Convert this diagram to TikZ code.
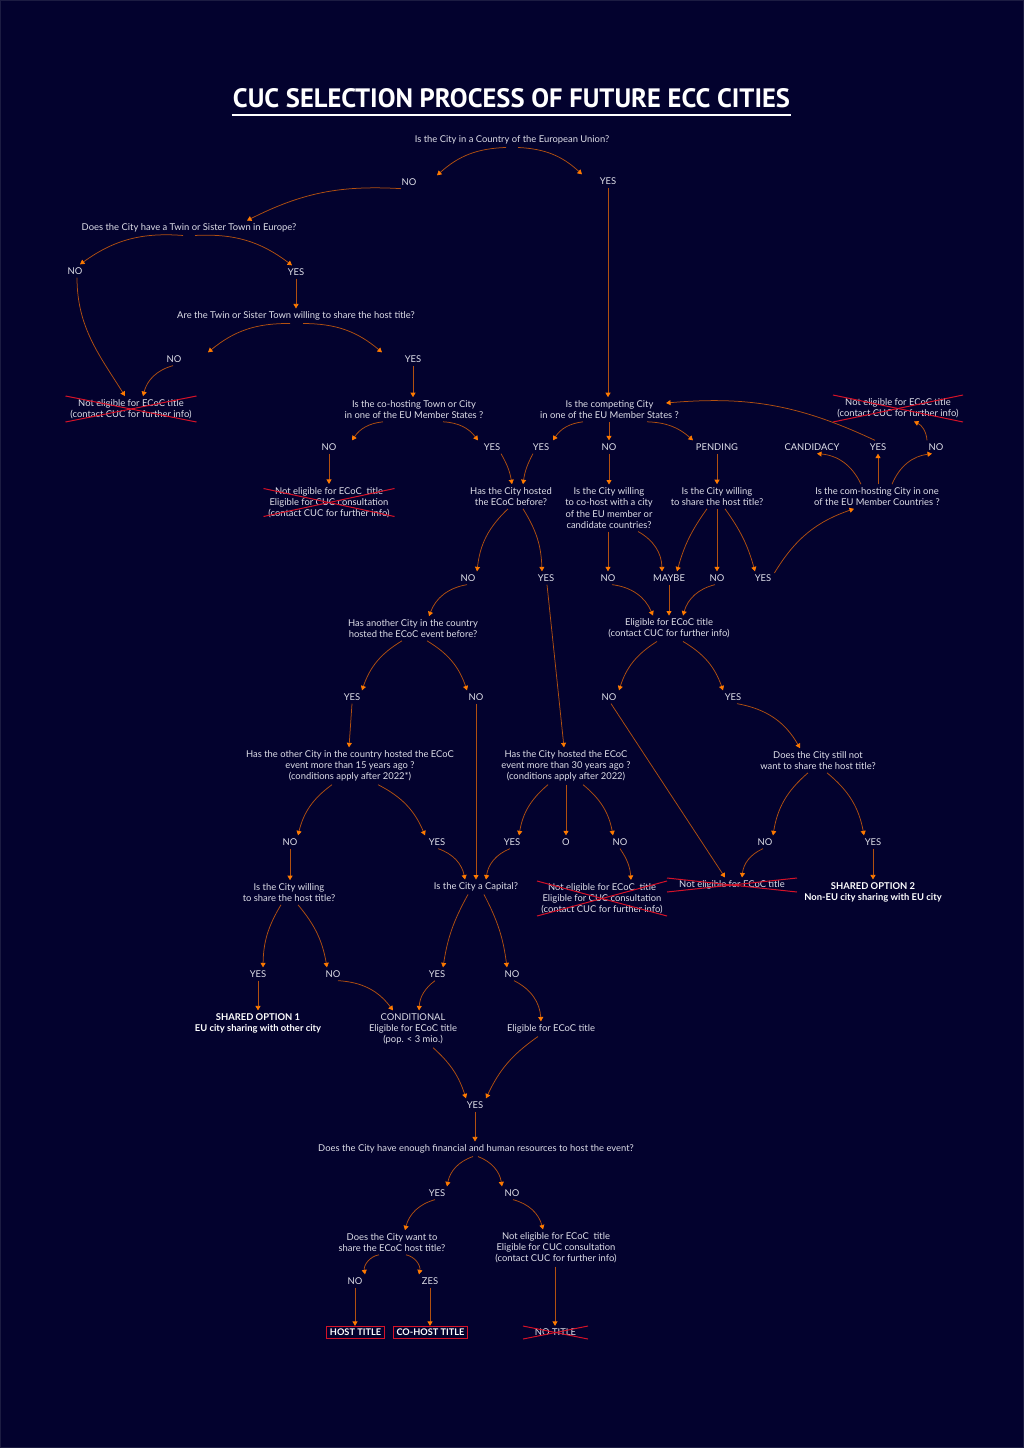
\documentclass[tikz,border=0pt]{standalone}
\usepackage{graphicx}
\usepackage{fontspec}
\setmainfont{Lato}
\newfontfamily\titlefont{PT Sans}
\usetikzlibrary{arrows.meta}
\definecolor{bgc}{RGB}{3,2,46}
\definecolor{fgc}{RGB}{222,222,232}
\definecolor{linec}{RGB}{178,80,16}
\definecolor{tipc}{RGB}{255,122,0}
\definecolor{xred}{RGB}{214,18,40}
\definecolor{edgec}{RGB}{28,28,66}
\newcommand\cdn[5]{\draw[arr] ([xshift=#2pt]#1.south) to[#5] ([xshift=#4pt]#3.north);}
\newcommand\crossnode[3]{\draw[xline] ([shift={(-#2,-#3)}]#1.center) -- ([shift={(#2,#3)}]#1.center);
  \draw[xline] ([shift={(-#2,#3)}]#1.center) -- ([shift={(#2,-#3)}]#1.center);}
\begin{document}
\begin{tikzpicture}[x=1pt,y=-1pt,
  txt/.style={text=fgc, font=\fontsize{9.4}{11.2}\selectfont, align=center, inner sep=3pt},
  bold/.style={txt, text=white, font=\fontsize{9.4}{11.2}\selectfont\bfseries},
  titlebox/.style={txt, text=white, font=\fontsize{9.2}{11.2}\selectfont\bfseries, draw=xred, line width=1pt, inner xsep=3.5pt, inner ysep=2.8pt, text height=6.6pt, text depth=0pt},
  arr/.style={draw=linec, line width=0.75pt, -{Triangle[length=4.5pt,width=5pt,color=tipc]}},
  xline/.style={draw=xred, line width=1pt},
]
\fill[bgc] (0,0) rectangle (1024,1448);
\useasboundingbox (0,0) rectangle (1024,1448);
\draw[edgec, line width=1pt] (0.5,0.5) rectangle (1023.5,1447.5);

% title
\node[inner sep=0pt, text=white] (title) at (511.5,98) {\resizebox{557pt}{19pt}{\titlefont\bfseries CUC SELECTION PROCESS OF FUTURE ECC CITIES}};
\draw[white, line width=1.8pt] ([xshift=-1pt,yshift=-7.5pt]title.south west) -- ([xshift=1pt,yshift=-7.5pt]title.south east);

% nodes
\node[txt] (q1) at (512,140) {Is the City in a Country of the European Union?};
\node[txt] (no1) at (409,182) {NO};
\node[txt] (yes1) at (608,181) {YES};
\node[txt] (q2) at (189,228) {Does the City have a Twin or Sister Town in Europe?};
\node[txt] (no2) at (75,271) {NO};
\node[txt] (yes2) at (296,272) {YES};
\node[txt] (q3) at (296,316) {Are the Twin or Sister Town willing to share the host title?};
\node[txt] (no3) at (174,359) {NO};
\node[txt] (yes3) at (413,359) {YES};
\node[txt] (ne1) at (131,409) {Not eligible for ECoC title\\(contact CUC for further info)};
\node[txt] (q4) at (414,409.5) {Is the co-hosting Town or City\\in one of the EU Member States ?};
\node[txt] (q6) at (609.5,409.5) {Is the competing City\\in one of the EU Member States ?};
\node[txt] (ne3) at (898,408.5) {Not eligible for ECoC title\\(contact CUC for further info)};
\node[txt] (no4) at (329,447) {NO};
\node[txt] (yes4) at (492,447) {YES};
\node[txt] (yes5) at (541,447) {YES};
\node[txt] (no5) at (609,447) {NO};
\node[txt] (pend) at (717,447) {PENDING};
\node[txt] (cand) at (812,447) {CANDIDACY};
\node[txt] (yes6) at (878,447) {YES};
\node[txt] (no6) at (936,447) {NO};
\node[txt] (ne2) at (329,502.5) {Not eligible for ECoC~ title\\Eligible for CUC consultation\\(contact CUC for further info)};
\node[txt] (q5) at (511,496.5) {Has the City hosted\\the ECoC before?};
\node[txt] (q7) at (609,508) {Is the City willing\\to co-host with a city\\of the EU member or\\candidate countries?};
\node[txt] (q8) at (717,496.5) {Is the City willing\\to share the host title?};
\node[txt] (q9) at (877,496.5) {Is the com-hosting City in one\\of the EU Member Countries ?};
\node[txt] (no7) at (468,578) {NO};
\node[txt] (yes7) at (546,578) {YES};
\node[txt] (no8) at (608,578) {NO};
\node[txt] (maybe) at (669,578) {MAYBE};
\node[txt] (no9) at (717,578) {NO};
\node[txt] (yes8) at (763,578) {YES};
\node[txt] (q10) at (413,628.5) {Has another City in the country\\hosted the ECoC event before?};
\node[txt] (el1) at (669,628.5) {Eligible for ECoC title\\(contact CUC for further info)};
\node[txt] (yes9) at (352,697) {YES};
\node[txt] (no10) at (476,697) {NO};
\node[txt] (no11) at (609,697) {NO};
\node[txt] (yes10) at (733,697) {YES};
\node[txt] (q11) at (350,766) {Has the other City in the country hosted the ECoC\\event more than 15 years ago ?\\(conditions apply after 2022*)};
\node[txt] (q12) at (566,766) {Has the City hosted the ECoC\\event more than 30 years ago ?\\(conditions apply after 2022)};
\node[txt] (q13) at (818,760.5) {Does the City still not\\want to share the host title?};
\node[txt] (no12) at (290,842) {NO};
\node[txt] (yes11) at (437,842) {YES};
\node[txt] (yes12) at (512,842) {YES};
\node[txt] (o) at (566,842) {O};
\node[txt] (no13) at (620,842) {NO};
\node[txt] (no14) at (765,842) {NO};
\node[txt] (yes13) at (873,842) {YES};
\node[txt] (q14) at (289,892.5) {Is the City willing\\to share the host title?};
\node[txt] (q15) at (476,887) {Is the City a Capital?};
\node[txt] (ne4) at (602,898.5) {Not eligible for ECoC~ title\\Eligible for CUC consultation\\(contact CUC for further info)};
\node[txt] (ne5) at (732,885) {Not eligible for ECoC title};
\node[bold] (sh2) at (873,892.5) {SHARED OPTION 2\\Non-EU city sharing with EU city};
\node[txt] (yes14) at (258,974) {YES};
\node[txt] (no15) at (333,974) {NO};
\node[txt] (yes15) at (437,974) {YES};
\node[txt] (no16) at (512,974) {NO};
\node[bold] (sh1) at (258,1023.5) {SHARED OPTION 1\\EU city sharing with other city};
\node[txt] (cond) at (413,1029) {CONDITIONAL\\Eligible for ECoC title\\(pop. < 3 mio.)};
\node[txt] (el2) at (551,1029) {Eligible for ECoC title};
\node[txt] (yes16) at (475,1105) {YES};
\node[txt] (q16) at (476,1149) {Does the City have enough financial and human resources to host the event?};
\node[txt] (yes17) at (437,1193) {YES};
\node[txt] (no17) at (512,1193) {NO};
\node[txt] (q17) at (392,1242.5) {Does the City want to\\share the ECoC host title?};
\node[txt] (ne6) at (556,1248) {Not eligible for ECoC~ title\\Eligible for CUC consultation\\(contact CUC for further info)};
\node[txt] (no18) at (355,1281) {NO};
\node[txt] (zes) at (430,1281) {ZES};
\node[titlebox] (host) at (355.5,1332.5) {HOST TITLE};
\node[titlebox] (cohost) at (430.5,1332.5) {CO-HOST TITLE};
\node[txt] (notitle) at (555.5,1332.5) {NO TITLE};

% crosses
\crossnode{ne1}{65.5}{13}
\crossnode{ne2}{65.5}{14}
\crossnode{ne3}{65}{13.5}
\crossnode{ne4}{65}{17.5}
\crossnode{ne5}{65}{7}
\crossnode{notitle}{32.5}{6.5}

% connectors
\cdn{q1}{-6}{no1}{28}{bend right=20}
\cdn{q1}{6}{yes1}{-26}{bend left=20}
\cdn{no1}{-8}{q2}{58}{bend right=15}
\cdn{yes1}{0}{q6}{-1.5}{}
\cdn{q2}{-6}{no2}{5}{bend right=20}
\cdn{q2}{6}{yes2}{-4}{bend left=20}
\cdn{yes2}{0}{q3}{0}{}
\cdn{q3}{-6}{no3}{34}{bend right=20}
\cdn{q3}{7}{yes3}{-31}{bend left=20}
\draw[arr] ([xshift=2pt]no2.south) .. controls +(0,50) and +(-25,-40) .. ([xshift=-6pt]ne1.north);
\cdn{no3}{-1}{ne1}{12}{bend right=30}
\cdn{yes3}{0}{q4}{-1}{}
\cdn{q4}{-31}{no4}{23}{bend right=25}
\cdn{q4}{29}{yes4}{-14}{bend left=25}
\cdn{no4}{0}{ne2}{0}{}
\cdn{yes4}{9}{q5}{1}{bend left=10}
\cdn{yes5}{-8}{q5}{12}{bend right=10}
\cdn{q6}{-26.5}{yes5}{12}{bend right=25}
\cdn{q6}{-0.5}{no5}{0}{}
\cdn{q6}{37.5}{pend}{-24}{bend left=20}
\cdn{no5}{0}{q7}{0}{}
\cdn{pend}{0}{q8}{0}{}
\draw[arr] ([xshift=-16pt]q9.north) to[bend right=30] ([xshift=5pt]cand.south);
\draw[arr] ([xshift=1pt]q9.north) -- (yes6.south);
\draw[arr] ([xshift=15pt]q9.north) to[bend left=30] ([xshift=-4pt]no6.south);
\draw[arr] ([xshift=-3pt]yes6.north) to[bend right=15] ([xshift=-16pt,yshift=6.5pt]q6.east);
\draw[arr] ([xshift=-9pt]no6.north) to[bend right=30] ([xshift=16pt]ne3.south);
\cdn{q7}{-1}{no8}{0}{}
\cdn{q7}{29}{maybe}{-7}{bend left=30}
\cdn{q8}{-10}{maybe}{8}{bend right=10}
\cdn{q8}{0}{no9}{0}{}
\cdn{q8}{8}{yes8}{-8}{bend left=10}
\draw[arr] ([yshift=5pt]yes8.east) to[bend left=20] ([xshift=-23pt]q9.south);
\cdn{q5}{-3}{no7}{9}{bend right=20}
\cdn{q5}{12}{yes7}{-4}{bend left=15}
\cdn{no7}{-1}{q10}{16}{bend right=30}
\cdn{yes7}{1}{q12}{-2}{}
\cdn{no8}{4}{el1}{-16}{bend left=30}
\cdn{maybe}{0}{el1}{0}{}
\cdn{no9}{-2}{el1}{14}{bend right=30}
\cdn{el1}{-12}{no11}{10}{bend right=20}
\cdn{el1}{14}{yes10}{-10}{bend left=20}
\cdn{yes10}{4}{q13}{-18}{bend left=25}
\cdn{no11}{2}{ne5}{-7}{}
\cdn{q10}{-11}{yes9}{10}{bend right=20}
\cdn{q10}{14}{no10}{-9}{bend left=20}
\cdn{yes9}{0}{q11}{-1}{}
\cdn{no10}{0}{q15}{0}{}
\cdn{q11}{-18}{no12}{8}{bend right=20}
\cdn{q11}{28}{yes11}{-12}{bend left=20}
\cdn{no12}{0}{q14}{1}{}
\cdn{yes11}{1}{q15}{-11}{bend left=30}
\cdn{yes12}{-2}{q15}{10}{bend right=30}
\cdn{q12}{-18}{yes12}{7}{bend right=20}
\cdn{q12}{0}{o}{0}{}
\cdn{q12}{17}{no13}{-7}{bend left=20}
\cdn{no13}{0}{ne4}{29}{bend left=15}
\cdn{q13}{-10}{no14}{8}{bend right=20}
\cdn{q13}{9}{yes13}{-9}{bend left=20}
\cdn{no14}{-2}{ne5}{10}{bend right=30}
\cdn{yes13}{0}{sh2}{0}{}
\cdn{q14}{-8}{yes14}{5}{bend right=15}
\cdn{q14}{9}{no15}{-6}{bend left=15}
\cdn{q15}{-8}{yes15}{6}{bend right=10}
\cdn{q15}{8}{no16}{-5}{bend left=10}
\cdn{yes14}{0}{sh1}{0}{}
\cdn{no15}{5}{cond}{-20}{bend left=25}
\cdn{yes15}{-2}{cond}{6}{bend right=25}
\cdn{no16}{2}{el2}{-10}{bend left=30}
\cdn{cond}{20}{yes16}{-9}{bend left=15}
\cdn{el2}{-13}{yes16}{11}{bend right=15}
\cdn{yes16}{0}{q16}{-1}{}
\cdn{q16}{-3}{yes17}{10}{bend right=30}
\cdn{q16}{2}{no17}{-10}{bend left=30}
\cdn{yes17}{-2}{q17}{13}{bend right=30}
\cdn{no17}{1}{ne6}{-13}{bend left=30}
\cdn{q17}{-13}{no18}{10}{bend right=45}
\cdn{q17}{14}{zes}{-11}{bend left=45}
\cdn{no18}{0}{host}{-0.5}{}
\cdn{zes}{0}{cohost}{-0.5}{}
\cdn{ne6}{-1}{notitle}{-0.5}{}
\end{tikzpicture}
\end{document}
